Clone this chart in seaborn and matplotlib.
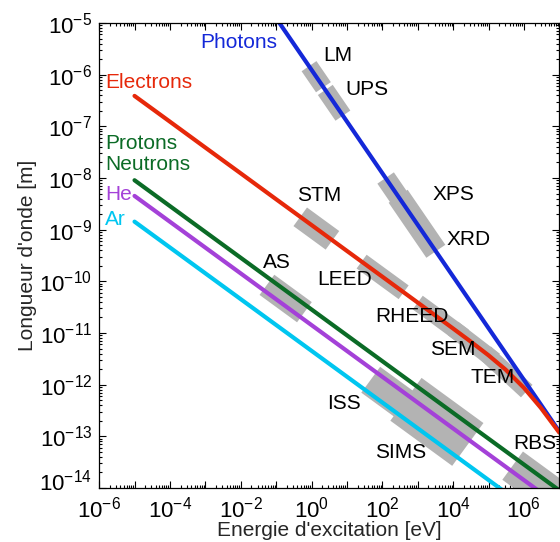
import matplotlib
matplotlib.use("Agg")
import matplotlib.pyplot as plt
import matplotlib.ticker as mticker
import matplotlib.transforms as mtransforms
import numpy as np
import pandas as pd
import seaborn as sns

# wavelength vs excitation energy
photon_e = [1e-1, 1e7]
photon_l = [1.24e-5, 1.24e-13]

electron_e = [1e-5, 1e-4, 1e-3, 1e-2, 1e-1, 1, 10, 100, 1e3, 1e4, 3e4, 1e5, 3e5, 1e6, 3e6, 1e7]
electron_l = [3.88e-7, 1.23e-7, 3.88e-8, 1.23e-8, 3.88e-9, 1.23e-9, 3.88e-10, 1.23e-10,
              3.88e-11, 1.22e-11, 6.98e-12, 3.70e-12, 1.97e-12, 8.7e-13, 3.57e-13, 1.18e-13]

proton_e = [1e-5, 1e7]
proton_l = [9.05e-9, 9.0e-15]

helium_e = [1e-5, 1e7]
helium_l = [4.5e-9, 4.5e-15]

argon_e = [1e-5, 1e7]
argon_l = [1.43e-9, 1.43e-15]

particles = ["Photons", "Electrons", "Protons", "He", "Ar"]
colors = {"Photons": "#1428d8", "Electrons": "#e6280a", "Protons": "#0b6b26",
          "He": "#a441d8", "Ar": "#00c6f0"}

# series labels (text, colour key, energy, wavelength)
series_text = ["Photons", "Electrons", "Protons", "Neutrons", "He", "Ar"]
series_key = ["Photons", "Electrons", "Protons", "Protons", "He", "Ar"]
series_x = [7.1e-4, 1.5e-6, 1.5e-6, 1.5e-6, 1.5e-6, 1.5e-6]
series_y = [4.1e-6, 7.0e-7, 4.7e-8, 1.8e-8, 4.7e-9, 1.55e-9]

# techniques: line they sit on, energy range [eV], wavelength shift, band width [px]
tech_names = ["LM", "UPS", "XPS", "XRD", "STM", "LEED", "RHEED", "SEM", "TEM",
              "AS", "ISS", "SIMS", "RBS"]
tech_line = ["Photons", "Photons", "Photons", "Photons", "Electrons", "Electrons",
             "Electrons", "Electrons", "Electrons", "He", "He", "He", "He"]
tech_e_lo = [0.85, 2.45, 124, 280, 0.48, 26, 1e3, 1e4, 8e4, 0.055, 47, 465, 4.8e5]
tech_e_hi = [2.17, 7.7, 590, 3250, 3.9, 400, 2e4, 1.5e5, 1.2e6, 0.63, 955, 2.6e4, 1e8]
tech_shift = [1, 1, 1, 1, 1, 1, 1, 1, 1, 1.41, 0.60, 0.79, 1.32]
tech_width = [18, 18, 20, 23, 23, 17, 17, 17, 17, 25, 32, 53, 35]

# technique label positions
tech_x = [2.08, 8.9, 2550, 6340, 0.385, 1.41, 62.6, 2240, 3.0e4, 0.0437, 2.7, 62.6, 4.95e5]
tech_y = [2.4e-6, 5.06e-7, 4.7e-9, 6.4e-10, 4.5e-9, 1.1e-10, 2.1e-11, 4.7e-12, 1.36e-12,
          2.3e-10, 4.4e-13, 4.9e-14, 7.4e-14]

x_exp = list(range(-6, 8))
y_exp = list(range(-14, -4))

data = {"Photons": (photon_e, photon_l), "Electrons": (electron_e, electron_l),
        "Protons": (proton_e, proton_l), "He": (helium_e, helium_l),
        "Ar": (argon_e, argon_l)}

frames = []
for name in particles:
    e, l = data[name]
    frames.append(pd.DataFrame({"particle": name, "energy": e, "wavelength": l}))
df = pd.concat(frames, ignore_index=True)

sns.set_theme(style="ticks")
plt.rcParams["font.family"] = ["Liberation Sans", "DejaVu Sans"]
plt.rcParams["mathtext.fontset"] = "custom"
plt.rcParams["mathtext.rm"] = "Liberation Sans"
plt.rcParams["mathtext.default"] = "regular"
plt.rcParams["axes.unicode_minus"] = False

fig = plt.figure(figsize=(5.6, 5.42), dpi=100)
ax = fig.add_axes([0.177, 0.0996, 0.8218, 0.858])
ax.set_xscale("log")
ax.set_yscale("log")

# grey technique bands underneath
for i, name in enumerate(tech_names):
    e, l = data[tech_line[i]]
    le = np.log10(e)
    ll = np.log10(l)
    ends_e = np.array([tech_e_lo[i], tech_e_hi[i]])
    ends_l = 10 ** np.interp(np.log10(ends_e), le, ll) * tech_shift[i]
    if ends_e[1] > e[-1]:
        slope = (ll[-1] - ll[-2]) / (le[-1] - le[-2])
        ends_l[1] = 10 ** (ll[-1] + slope * (np.log10(ends_e[1]) - le[-1])) * tech_shift[i]
    ax.plot(ends_e, ends_l, color="#b3b3b3", lw=tech_width[i] * 0.72,
            solid_capstyle="butt", zorder=1)

sns.lineplot(data=df, x="energy", y="wavelength", hue="particle", palette=colors,
             estimator=None, sort=False, lw=3, legend=False, ax=ax, zorder=2)

fs = 15
for t, k, x, y in zip(series_text, series_key, series_x, series_y):
    ax.text(x, y, t, color=colors[k], fontsize=fs, ha="left", va="center", zorder=3)
for t, x, y in zip(tech_names, tech_x, tech_y):
    ax.text(x, y, t, color="black", fontsize=fs, ha="left", va="center", zorder=3,
            clip_on=True)

ax.set_xlim(1e-6, 1e7)
ax.set_ylim(1e-14, 1e-5)

x_major = [10.0 ** p for p in x_exp]
y_major = [10.0 ** p for p in y_exp]
x_minor = [s * 10.0 ** p for p in x_exp[:-1] for s in range(2, 10)]
y_minor = [s * 10.0 ** p for p in y_exp[:-1] for s in range(2, 10)]
ax.xaxis.set_major_locator(mticker.FixedLocator(x_major))
ax.yaxis.set_major_locator(mticker.FixedLocator(y_major))
ax.xaxis.set_minor_locator(mticker.FixedLocator(x_minor))
ax.yaxis.set_minor_locator(mticker.FixedLocator(y_minor))
ax.xaxis.set_major_formatter(mticker.FixedFormatter(
    [f"$10^{{{p}}}$" if p % 2 == 0 else "" for p in x_exp]))
ax.yaxis.set_major_formatter(mticker.FixedFormatter([f"$10^{{{p}}}$" for p in y_exp]))
ax.xaxis.set_minor_formatter(mticker.NullFormatter())
ax.yaxis.set_minor_formatter(mticker.NullFormatter())

ax.tick_params(which="both", direction="in", top=True, right=True, colors="black",
               labelsize=16, width=0.8)
ax.tick_params(which="major", length=5)
ax.tick_params(axis="x", which="major", pad=6)
ax.tick_params(axis="y", which="major", pad=5)
ax.tick_params(which="minor", length=2.5)
for s in ax.spines.values():
    s.set_linewidth(0.9)
    s.set_color("black")

# lowest y label sits a bit higher, clear of the x labels
bottom_tick = ax.yaxis.get_major_ticks()[0]
bottom_tick.label1.set_transform(bottom_tick.label1.get_transform()
                                 + mtransforms.ScaledTranslation(0, 6 / 72, fig.dpi_scale_trans))

ax.set_xlabel("Energie d'excitation [eV]", fontsize=fs, labelpad=-1)
ax.set_ylabel("Longueur d'onde [m]", fontsize=fs, labelpad=2)

fig.savefig("out.png", dpi=100)
